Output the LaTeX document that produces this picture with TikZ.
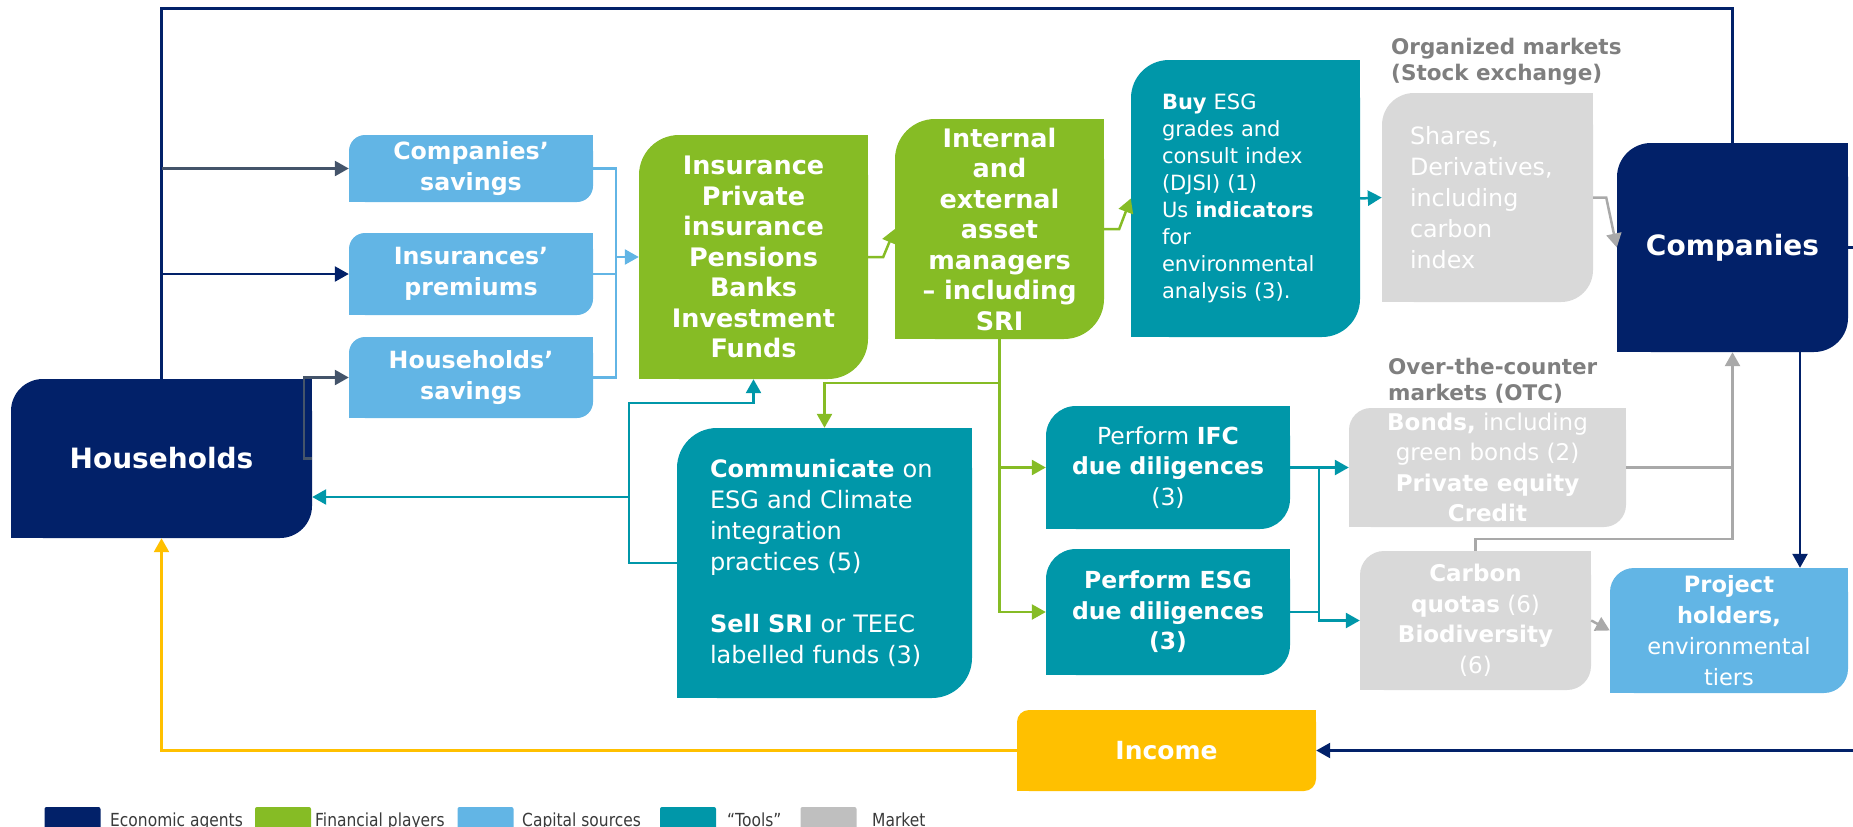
\documentclass[tikz,border=0pt]{standalone}
\usepackage{fontspec}
\setmainfont{DejaVu Sans}
\newfontfamily\legendfont[FakeStretch=0.86]{DejaVu Sans}
\usetikzlibrary{arrows.meta}

% palette
\definecolor{navy}{RGB}{2,33,105}
\definecolor{finGreen}{HTML}{86BC25}
\definecolor{capBlue}{HTML}{62B5E5}
\definecolor{toolTeal}{HTML}{0097A9}
\definecolor{mktGray}{HTML}{D9D9D9}
\definecolor{mktKey}{HTML}{BFBFBF}
\definecolor{lblGray}{HTML}{7F7F7F}
\definecolor{incYellow}{HTML}{FFC000}
\definecolor{linkGray}{HTML}{A9A9A9}
\definecolor{slate}{HTML}{44546A}
\definecolor{keyText}{HTML}{3A3A3A}

\pgfdeclarelayer{background}
\pgfsetlayers{background,main}

\newcommand\fsz[2]{\fontsize{#1}{#2}\selectfont}
% boxes are rounded at top-left and bottom-right only:
% fill back the two other corners behind the node
\newcommand\squarecorners[3]{%
  \fill[#2] (#1.north east) rectangle ++(-#3,#3);
  \fill[#2] (#1.south west) rectangle ++(#3,-#3);}

\begin{document}
\begin{tikzpicture}[x=1pt,y=-1pt,
  box/.style={inner sep=0pt, text=white, align=center},
  agentbox/.style={box, fill=navy, font=\fsz{28}{34}\bfseries},
  capbox/.style={box, fill=capBlue, font=\fsz{23.7}{31}\bfseries, minimum width=244pt, rounded corners=16pt},
  finbox/.style={box, fill=finGreen, font=\fsz{25.5}{30.5}\bfseries, rounded corners=40pt},
  toolbox/.style={box, fill=toolTeal, font=\fsz{24}{31}},
  mktbox/.style={box, fill=mktGray, font=\fsz{23}{30.5}},
  projbox/.style={box, fill=capBlue, font=\fsz{22.5}{31}},
  incbox/.style={box, fill=incYellow, font=\fsz{25}{30}\bfseries, rounded corners=12pt},
  mktlabel/.style={inner sep=0pt, anchor=west, align=left, text=lblGray, font=\fsz{21.5}{26}\bfseries},
  legkey/.style={inner sep=0pt, minimum width=56pt, minimum height=26pt, rounded corners=2pt},
  legtext/.style={inner sep=0pt, anchor=base west, text=keyText, font=\legendfont\fsz{18}{22}},
  flow/.style={line width=2.5pt},
  tip/.style={-{Triangle[length=14pt,width=15pt]}},
  navyflow/.style={flow, draw=navy},
  slateflow/.style={flow, draw=slate},
  capflow/.style={flow, draw=capBlue},
  greenflow/.style={flow, draw=finGreen},
  tealflow/.style={flow, draw=toolTeal},
  grayflow/.style={flow, draw=linkGray},
  yellowflow/.style={flow, draw=incYellow}]

\useasboundingbox (0,0) rectangle (1853,827);

% economic agents
\node[agentbox, minimum width=301pt, minimum height=159pt, rounded corners=32pt] (hh) at (161.5,458.5) {Households};
\node[agentbox, minimum width=231pt, minimum height=209pt, rounded corners=34pt] (comp) at (1732.5,247.5) {Companies};

% capital sources
\node[capbox, minimum height=67pt] (csav) at (471,168.5) {Companies’\\savings};
\node[capbox, minimum height=82pt] (iprem) at (471,274) {Insurances’\\premiums};
\node[capbox, minimum height=81pt] (hsav) at (471,377.5) {Households’\\savings};
\node[projbox, minimum width=238pt, minimum height=125pt, rounded corners=24pt] (proj) at (1729,630.5)
  {\textbf{Project}\\\textbf{holders,}\\environmental\\tiers};

% financial players
\node[finbox, minimum width=229pt, minimum height=244pt] (ins) at (753.5,257)
  {Insurance\\Private\\insurance\\Pensions\\Banks\\Investment\\Funds};
\node[finbox, minimum width=209pt, minimum height=220pt] (int) at (999.5,229)
  {Internal\\and\\external\\asset\\managers\\– including\\SRI};

% tools
\node[toolbox, font=\fsz{21}{27}, align=left, text width=167pt, inner xsep=31pt,
      minimum height=277pt, rounded corners=38pt] (buy) at (1245.5,198.5)
  {\textbf{Buy} ESG\\grades and\\consult index\\(DJSI) (1)\\Us \textbf{indicators}\\for\\environmental\\analysis (3).};
\node[toolbox, align=left, text width=229pt, inner xsep=33pt,
      minimum height=270pt, rounded corners=40pt] (comm) at (824.5,563)
  {\textbf{Communicate} on\\ESG and Climate\\integration\\practices (5)\\[31pt]\textbf{Sell SRI} or TEEC\\labelled funds (3)};
\node[toolbox, font=\fsz{23.5}{30.5}, minimum width=244pt, minimum height=123pt, rounded corners=30pt] (ifc) at (1168,467.5)
  {Perform \textbf{IFC}\\\textbf{due diligences}\\(3)};
\node[toolbox, font=\fsz{23.5}{30.5}\bfseries, minimum width=244pt, minimum height=126pt, rounded corners=30pt] (esg) at (1168,612)
  {Perform ESG\\due diligences\\(3)};

% markets
\node[mktbox, font=\fsz{23.8}{31}, align=left, text width=155pt, inner xsep=28pt,
      minimum height=209pt, rounded corners=32pt] (shares) at (1487.5,197.5)
  {Shares,\\Derivatives,\\including\\carbon\\index};
\node[mktbox, minimum width=277pt, minimum height=119pt, rounded corners=22pt] (bonds) at (1487.5,467.5)
  {\textbf{Bonds,} including\\green bonds (2)\\\textbf{Private equity}\\\textbf{Credit}};
\node[mktbox, minimum width=231pt, minimum height=139pt, rounded corners=24pt] (carbon) at (1475.5,620.5)
  {\textbf{Carbon}\\\textbf{quotas} (6)\\\textbf{Biodiversity}\\(6)};
\node[mktlabel] (orglbl) at (1391,62) {Organized markets\\(Stock exchange)};
\node[mktlabel] (otclbl) at (1388,380.5) {Over-the-counter\\markets (OTC)};

% income
\node[incbox, minimum width=299pt, minimum height=81pt] (income) at (1166.5,750.5) {Income};

\begin{pgfonlayer}{background}
  \squarecorners{hh}{navy}{32}
  \squarecorners{comp}{navy}{34}
  \squarecorners{csav}{capBlue}{16}
  \squarecorners{iprem}{capBlue}{16}
  \squarecorners{hsav}{capBlue}{16}
  \squarecorners{proj}{capBlue}{24}
  \squarecorners{ins}{finGreen}{40}
  \squarecorners{int}{finGreen}{40}
  \squarecorners{buy}{toolTeal}{38}
  \squarecorners{comm}{toolTeal}{40}
  \squarecorners{ifc}{toolTeal}{30}
  \squarecorners{esg}{toolTeal}{30}
  \squarecorners{shares}{mktGray}{32}
  \squarecorners{bonds}{mktGray}{22}
  \squarecorners{carbon}{mktGray}{24}
  \squarecorners{income}{incYellow}{12}
\end{pgfonlayer}

% companies back to households, feeding the capital sources
\coordinate (topL) at (161.5,8);
\draw[navyflow, line width=3pt] (comp.north) |- (topL) -- (hh.north);
\draw[slateflow, tip] (topL |- csav.west) -- (csav.west);
\draw[navyflow, tip] (topL |- iprem.west) -- (iprem.west);
\draw[slateflow, tip] (hh.east) -- ++(-8,0) |- (hsav.west);

% capital sources into financial players
\coordinate (brk) at (616,257);
\draw[capflow] (csav.east) -| (brk);
\draw[capflow] (hsav.east) -| (brk);
\draw[capflow] (iprem.east) -- (iprem.east -| brk);
\draw[capflow, tip] (brk) -- (ins.west);

% financial chain
\draw[greenflow, tip] (ins.east) -- ++(15,0) -- (int.west);
\draw[greenflow, tip] (int.east) -- ++(15,0) -- (buy.west);
\draw[greenflow, tip] (int.south) -- ++(0,44) -| (comm.north);
\draw[greenflow, tip] (int.south) |- (ifc.west);
\draw[greenflow, tip] (int.south) |- (esg.west);

% communication back to investors and households
\coordinate (tjoin) at (629,403);
\coordinate (tback) at (629,497);
\draw[tealflow, tip] (comm.west) -| (tjoin) -| (ins.south);
\draw[tealflow, tip] (tback) -- (tback -| hh.east);

% tools into markets
\coordinate (tv) at (1319,467.5);
\draw[tealflow, tip] (buy.east) -- (shares.west);
\draw[tealflow, tip] (ifc.east) -- (bonds.west);
\draw[tealflow] (esg.east) -- (esg.east -| tv);
\draw[tealflow, tip] (tv) |- (carbon.west);

% markets into companies and projects
\draw[grayflow, tip] (shares.east) -- ++(13,0) -- (comp.west);
\draw[grayflow, tip] (bonds.east) -| (comp.south);
\draw[grayflow] (carbon.north) -- ++(0,-12) -| (bonds.east -| comp.south);
\draw[grayflow, tip] (carbon.east) -- (proj.west);

% companies to projects and to income
\coordinate (cdrop) at (1800,352);
\draw[navyflow, tip] (cdrop) -- (cdrop |- proj.north);
\draw[navyflow, tip] (comp.east) -- ++(20,0) |- (income.east);

% income to households
\draw[yellowflow, tip] (income.west) -| (hh.south);

% legend
\node[legkey, fill=navy] (k1) at (72.5,820) {};
\node[legtext] (t1) at (110,826) {Economic agents};
\node[legkey, fill=finGreen] (k2) at (283,820) {};
\node[legtext] (t2) at (315,826) {Financial players};
\node[legkey, fill=capBlue] (k3) at (485.5,820) {};
\node[legtext] (t3) at (522,826) {Capital sources};
\node[legkey, fill=toolTeal] (k4) at (688,820) {};
\node[legtext] (t4) at (727,826) {“Tools”};
\node[legkey, fill=mktKey] (k5) at (828.5,820) {};
\node[legtext] (t5) at (872,826) {Market};

\end{tikzpicture}
\end{document}
